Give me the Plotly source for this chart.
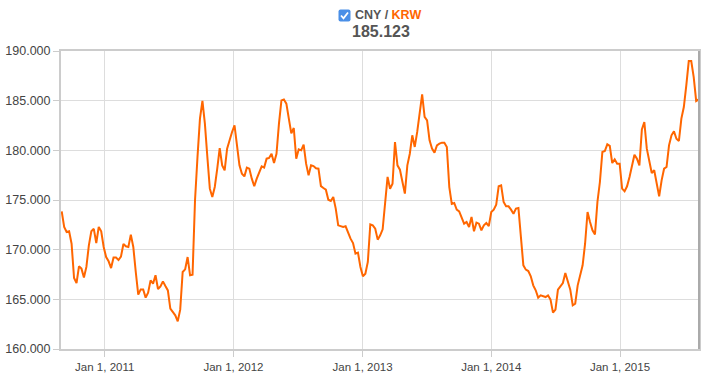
import pandas as pd
import plotly.graph_objects as go

# Weekly CNY/KRW closing values
start_date = "2010-09-01"
values = [
    173.86, 172.28, 171.78, 171.85, 170.6, 167.15, 166.64, 168.32, 168.09, 167.2,
    168.26, 170.44, 171.85, 172.1, 170.67, 172.28, 171.85, 170.27, 169.26, 168.83,
    168.15, 169.2, 169.2, 168.96, 169.3, 170.57, 170.34, 170.27, 171.51, 170.27,
    167.75, 165.47, 166.0, 166.0, 165.17, 165.67, 166.91, 166.58, 167.42, 166.04,
    166.31, 166.81, 166.34, 165.9, 164.06, 163.69, 163.39, 162.79, 163.96, 167.75,
    168.02, 169.26,
    167.42, 167.48, 174.97, 179.33, 183.19, 184.97, 182.68, 179.33, 176.14, 175.3,
    176.31, 178.15, 180.23, 178.49, 177.99, 180.17, 181.07, 181.85, 182.52, 180.67,
    178.49, 177.65, 177.38, 178.26, 178.15, 177.15, 176.38, 177.15, 177.82, 178.39,
    178.26, 179.16, 179.23, 179.66, 178.72, 179.66, 182.68, 185.03, 185.13, 184.7,
    183.19, 181.7, 182.25, 179.16, 180.1, 180.0, 180.57, 178.66, 177.48, 178.49,
    178.42,
    178.2, 178.15, 176.4, 176.21, 176.04, 175.03, 174.9, 175.3, 174.13, 172.45,
    172.35, 172.28, 172.35, 171.68, 171.11, 170.67, 169.6, 169.7, 168.26, 167.32,
    167.58, 168.76, 172.55, 172.45, 172.11, 171.01, 171.44, 172.05, 174.63, 177.32,
    176.14, 176.64, 180.84, 178.49, 178.05, 176.98, 175.64, 178.49, 179.66, 181.51,
    180.34, 181.85, 184.03, 185.64, 183.36, 183.02, 181.01, 180.17, 179.77, 180.5,
    180.67, 180.77,
    180.77, 180.34, 176.3, 174.6, 174.7, 174.03, 173.86, 173.12, 172.62, 172.79,
    172.28, 173.29, 171.85, 172.72, 172.62, 171.95, 172.45, 172.68, 172.38, 173.79,
    174.03, 174.53, 176.38, 176.48, 174.8, 174.36, 174.36, 174.03, 173.62, 174.13,
    174.19, 171.28, 168.42, 167.99, 167.85, 167.32, 166.41, 165.91, 165.17, 165.4,
    165.3, 165.23, 165.4, 164.97, 163.66, 163.96, 165.97, 166.31, 166.64, 167.65,
    166.91, 165.97,
    164.4, 164.56, 166.41, 167.52, 168.42, 170.6, 173.79, 172.79, 171.95, 171.54,
    174.8, 176.81, 179.83, 179.93, 180.6, 180.44, 178.72, 179.09, 178.66, 178.66,
    176.14, 175.87, 176.38, 177.32, 178.49, 179.56, 179.16, 178.49, 182.11, 182.85,
    180.17, 178.99, 177.72, 177.99, 176.64, 175.37, 176.98, 178.15, 178.32, 180.5,
    181.51, 181.91, 181.17, 180.94, 183.19, 184.36, 186.54, 188.99, 188.99, 187.38,
    184.97, 185.123,
]
dates = pd.date_range(start_date, periods=len(values), freq="7D")

x_ticks = ["2011-01-01", "2012-01-01", "2013-01-01", "2014-01-01", "2015-01-01"]
x_tick_labels = ["Jan 1, 2011", "Jan 1, 2012", "Jan 1, 2013", "Jan 1, 2014", "Jan 1, 2015"]
y_ticks = [160, 165, 170, 175, 180, 185, 190]
y_tick_labels = ["%.3f" % v for v in y_ticks]
base_ccy = "CNY"
quote_ccy = "KRW"
last_value = "185.123"

LINE = "#ff6600"
FONT = "Liberation Sans, Arial, Helvetica, sans-serif"

fig = go.Figure()
fig.add_trace(go.Scatter(
    x=dates, y=values, mode="lines",
    line=dict(color=LINE, width=2),
    hoverinfo="x+y", showlegend=False,
))

fig.update_layout(
    width=713, height=389,
    margin=dict(l=61, r=14, t=51, b=40, autoexpand=False),
    paper_bgcolor="white", plot_bgcolor="white",
    font=dict(family=FONT, size=12, color="#444"),
    xaxis=dict(
        range=["2010-08-30", "2015-08-13"],
        tickvals=x_ticks, ticktext=x_tick_labels,
        showgrid=True, gridcolor="#dddddd", gridwidth=1,
        showline=True, linecolor="#cccccc", linewidth=2, mirror=True,
        ticks="outside", ticklen=6, tickcolor="#cccccc", tickwidth=1,
        tickfont=dict(size=11.5, color="#444"),
        zeroline=False, automargin=False,
    ),
    yaxis=dict(
        range=[160, 190],
        tickvals=y_ticks, ticktext=y_tick_labels,
        showgrid=True, gridcolor="#dddddd", gridwidth=1,
        showline=True, linecolor="#cccccc", linewidth=2, mirror=True,
        ticks="outside", ticklen=6, tickcolor="#cccccc", tickwidth=1,
        tickfont=dict(size=12.5, color="#444"),
        zeroline=False, automargin=False,
    ),
)

# right border slightly darker
fig.add_shape(type="line", xref="paper", yref="paper", x0=1, x1=1, y0=0, y1=1,
              line=dict(color="#aaaaaa", width=2))

# legend-like title: checkbox + pair + last value
cb_x = (344.5 - 61) / 638
cb_y = (349 - 15.5) / 298
fig.add_shape(type="path", xref="paper", yref="paper",
              xsizemode="pixel", ysizemode="pixel", xanchor=cb_x, yanchor=cb_y,
              path="M -4,-6 L 4,-6 Q 6,-6 6,-4 L 6,4 Q 6,6 4,6 L -4,6 Q -6,6 -6,4 L -6,-4 Q -6,-6 -4,-6 Z",
              fillcolor="#4a8fe7", line=dict(width=0))
fig.add_shape(type="path", xref="paper", yref="paper",
              xsizemode="pixel", ysizemode="pixel", xanchor=cb_x, yanchor=cb_y,
              path="M -3.5,0 L -1,-2.8 L 3.5,3",
              line=dict(color="white", width=1.8))

fig.add_annotation(
    xref="paper", yref="paper", x=(353 - 61) / 638, y=(349 - 15) / 298,
    xanchor="left", yanchor="middle", showarrow=False,
    text="<b>%s</b><b> / </b><b><span style='color:%s'>%s</span></b>" % (base_ccy, LINE, quote_ccy),
    font=dict(family=FONT, size=12.5, color="#555"),
)
fig.add_annotation(
    xref="paper", yref="paper", x=(381 - 61) / 638, y=(349 - 31.5) / 298,
    xanchor="center", yanchor="middle", showarrow=False,
    text="<b>%s</b>" % last_value,
    font=dict(family=FONT, size=16, color="#555"),
)

fig.write_html("out.html",
               config={"displayModeBar": False},
               post_script="document.body.style.margin='0';document.body.style.overflow='hidden';")
